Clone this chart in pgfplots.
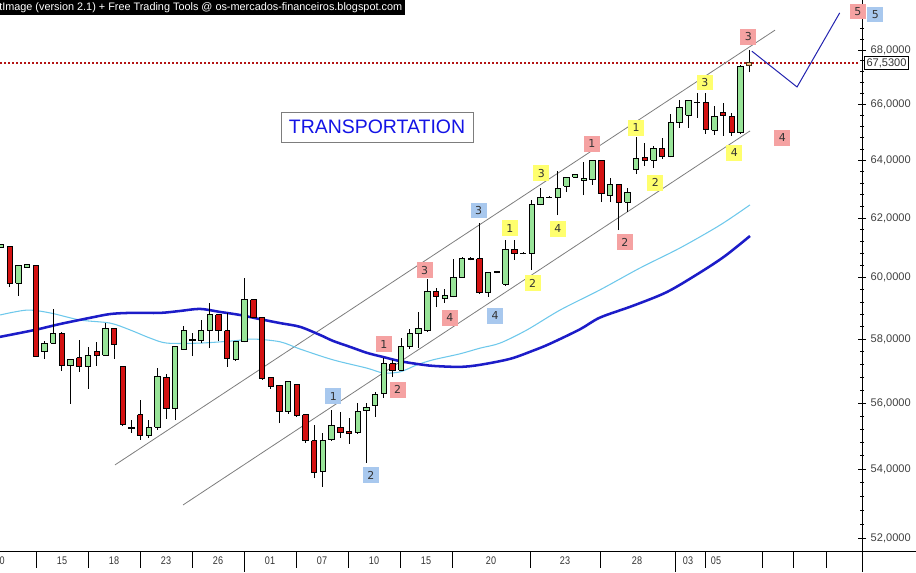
\documentclass[border=0pt]{standalone}
\usepackage{pgfplots}
\pgfplotsset{compat=1.18}
\usepackage{pgfplotstable}
\usepackage{fontspec}
\setmainfont{Liberation Sans}
\newfontfamily\narrowfont[FakeStretch=0.82]{Liberation Sans}
\newfontfamily\boxfont{DejaVu Sans}
\definecolor{cgreen}{RGB}{152,228,152}
\definecolor{cred}{RGB}{212,18,18}
\definecolor{mafast}{RGB}{110,200,235}
\definecolor{maslow}{RGB}{28,28,200}
\definecolor{lblpink}{RGB}{245,162,162}
\definecolor{lblblue}{RGB}{168,200,238}
\definecolor{lblyellow}{RGB}{255,255,110}
\definecolor{lastbox}{RGB}{240,190,130}
\definecolor{projline}{RGB}{35,35,175}
\definecolor{priceline}{RGB}{180,20,20}
\definecolor{chan}{RGB}{125,125,125}
\definecolor{ttlblue}{RGB}{20,20,230}

\pgfplotstableread{
i O H L C
0 61.02 61.12 61.00 61.09
1 61.05 61.06 59.69 59.82
2 59.82 60.39 59.40 60.39
3 60.35 60.44 60.33 60.42
4 60.39 60.40 57.44 57.47
5 57.60 57.95 57.38 57.88
6 57.88 58.98 57.86 58.20
7 58.20 58.22 57.00 57.16
8 57.16 57.35 55.98 57.35
9 57.41 57.98 56.97 57.13
10 57.13 57.76 56.44 57.50
11 57.60 57.92 57.16 57.50
12 57.50 58.52 57.48 58.36
13 58.33 58.36 57.38 57.85
14 57.13 57.14 55.30 55.36
15 55.27 55.48 55.09 55.21
16 55.64 56.10 54.88 55.00
17 55.00 55.48 54.94 55.27
18 55.27 57.09 55.18 56.84
19 56.81 56.91 55.52 55.82
20 55.82 57.77 55.48 57.76
21 57.69 58.43 57.68 58.27
22 58.01 58.20 57.47 57.95
23 57.95 58.62 57.88 58.27
24 58.27 59.17 57.72 58.81
25 58.78 58.80 57.95 58.27
26 58.27 58.85 57.13 57.38
27 57.35 57.93 57.31 57.92
28 57.92 59.99 57.90 59.27
29 59.27 59.30 58.67 58.69
30 58.69 58.69 56.72 56.75
31 56.78 56.79 56.44 56.53
32 56.56 56.57 55.39 55.73
33 55.73 56.66 55.67 56.66
34 56.59 56.60 55.58 55.61
35 55.64 55.64 54.79 54.85
36 54.85 55.33 53.74 53.89
37 53.92 55.09 53.48 54.85
38 54.88 55.79 54.86 55.33
39 55.27 55.73 54.94 55.09
40 55.12 55.55 54.76 55.06
41 55.09 56.00 55.07 55.73
42 55.76 56.00 54.19 55.88
43 55.94 56.35 55.58 56.28
44 56.31 57.41 56.16 57.22
45 57.22 57.35 56.81 57.03
46 57.03 58.04 57.02 57.76
47 57.76 58.33 57.69 58.17
48 58.17 58.88 57.72 58.36
49 58.27 59.96 58.25 59.56
50 59.56 59.66 59.04 59.37
51 59.33 59.63 59.17 59.40
52 59.37 60.62 59.35 60.02
53 60.02 60.69 59.99 60.62
54 60.59 60.67 60.57 60.65
55 60.62 61.83 59.48 59.50
56 59.50 60.17 59.37 60.16
57 60.16 60.20 60.14 60.19
58 59.79 61.26 59.73 60.92
59 60.95 61.26 60.59 60.82
60 60.79 60.84 60.77 60.82
61 60.82 62.62 60.25 62.48
62 62.45 63.03 62.43 62.69
63 62.69 62.74 62.67 62.72
64 62.72 63.62 62.10 63.03
65 63.10 63.43 62.89 63.41
66 63.41 63.50 63.40 63.49
67 63.28 63.94 62.79 63.35
68 63.31 64.02 63.14 64.01
69 64.01 64.02 62.55 62.83
70 62.79 63.38 62.55 63.17
71 63.17 63.18 61.59 62.52
72 62.55 63.03 62.21 62.89
73 63.69 64.82 63.52 64.05
74 64.08 64.61 63.80 64.01
75 64.01 64.50 63.73 64.43
76 64.43 64.79 64.05 64.12
77 64.12 65.65 64.10 65.33
78 65.33 66.16 65.15 65.90
79 65.61 66.13 65.15 66.12
80 66.05 66.41 65.51 66.08
81 66.08 66.41 64.93 65.11
82 65.07 65.94 64.90 65.54
83 65.72 66.05 64.86 65.61
84 65.54 65.69 64.86 64.97
85 64.97 67.44 64.95 67.37
}\candles

\tikzset{
  lbl/.style={font=\boxfont\fontsize{8.2}{9}\selectfont, text=black!80, minimum width=12pt, minimum height=11.5pt, inner sep=0pt},
  lp/.style={lbl, fill=lblpink},
  lb/.style={lbl, fill=lblblue},
  ly/.style={lbl, fill=lblyellow},
}

\begin{document}
\begin{tikzpicture}
\useasboundingbox (0,0) rectangle (687pt,429pt);
\begin{axis}[
  at={(0pt,15.75pt)}, anchor=south west,
  width=646.5pt, height=413.25pt, scale only axis,
  xmin=-0.115, xmax=98.966,
  ymode=log, ymin=51.629, ymax=69.895,
  hide x axis,
  axis y line*=right,
  y axis line style={line width=0.75pt},
  ytick={52,54,56,58,60,62,64,66,68},
  yticklabels={{52,0000},{54,0000},{56,0000},{58,0000},{60,0000},{62,0000},{64,0000},{66,0000},{68,0000}},
  minor ytick={52.4,52.8,...,69.6},
  tick align=center,
  major tick length=6pt, minor tick length=3pt,
  tick style={black, line width=0.6pt},
  yticklabel style={font=\fontsize{8.3}{10}\selectfont, text=black!75, xshift=0pt},
  clip=false,
]
% price line
\addplot[priceline, line width=1.5pt, dash pattern=on 1.5pt off 1.5pt] coordinates {(-0.115,67.53) (98.7,67.53)};
% channel lines
\addplot[chan, line width=0.6pt] coordinates {(13.10,54.13) (88.97,68.75)};
\addplot[chan, line width=0.6pt] coordinates {(20.92,52.95) (86.10,65.04)};
% moving averages
\addplot[mafast, line width=0.8pt, smooth, tension=0.5] coordinates {
(-0.11,58.78) (2.99,58.94) (5.63,58.85) (9.08,58.62) (12.53,58.52) (14.83,58.30) (17.13,58.04) (19.08,57.88) (22.87,57.88) (26.67,57.95) (28.97,58.01) (32.07,57.92) (34.37,57.69) (38.16,57.35) (42.07,57.09) (43.91,56.94) (45.86,56.97) (47.82,57.19) (49.66,57.35) (52.76,57.54) (55.06,57.72) (57.36,57.88) (60.46,58.30) (64.25,58.94) (68.85,59.60) (73.45,60.32) (78.05,60.99) (82.64,61.76) (86.09,62.45)};
\addplot[maslow, line width=1.9pt, smooth, tension=0.5] coordinates {
(-0.11,58.08) (3.91,58.30) (6.78,58.49) (10.23,58.69) (12.53,58.81) (14.83,58.85) (18.28,58.85) (20.57,58.91) (22.87,58.98) (25.17,58.88) (27.47,58.78) (29.77,58.65) (32.07,58.52) (34.37,58.40) (36.67,58.14) (38.16,57.95) (40.11,57.76) (42.07,57.57) (43.91,57.44) (45.86,57.31) (47.82,57.22) (49.66,57.16) (52.76,57.13) (55.06,57.19) (58.51,57.38) (61.15,57.64) (63.10,57.86) (66.55,58.32) (68.85,58.70) (72.64,59.08) (76.55,59.53) (80.34,60.17) (83.22,60.72) (86.09,61.39)};
% candles
\pgfplotstablegetrowsof{\candles}
\pgfmathtruncatemacro{\lastrow}{\pgfplotsretval-1}
\pgfplotsforeachungrouped \r in {0,...,\lastrow}{%
  \pgfplotstablegetelem{\r}{i}\of\candles \let\ci\pgfplotsretval
  \pgfplotstablegetelem{\r}{O}\of\candles \let\co\pgfplotsretval
  \pgfplotstablegetelem{\r}{H}\of\candles \let\ch\pgfplotsretval
  \pgfplotstablegetelem{\r}{L}\of\candles \let\cl\pgfplotsretval
  \pgfplotstablegetelem{\r}{C}\of\candles \let\cc\pgfplotsretval
  \pgfmathsetmacro\xl{\ci-0.31}%
  \pgfmathsetmacro\xr{\ci+0.31}%
  \pgfmathtruncatemacro\isred{\co>\cc}%
  \ifnum\isred=1 \def\cfill{cred}\else\def\cfill{cgreen}\fi
  \edef\temp{%
    \noexpand\addplot[black, line width=0.75pt] coordinates {(\ci,\cl) (\ci,\ch)};
    \noexpand\addplot[draw=black, line width=0.75pt, fill=\cfill] coordinates {(\xl,\co) (\xr,\co) (\xr,\cc) (\xl,\cc) (\xl,\co)};
  }%
  \temp
}
% last (current) candle
\addplot[black, line width=0.75pt] coordinates {(86,67.18) (86,68.00)};
\addplot[draw=black!60!brown, fill=lastbox, line width=0.75pt] coordinates {(85.69,67.41) (86.31,67.41) (86.31,67.53) (85.69,67.53) (85.69,67.41)};
% projection
\addplot[projline, line width=0.75pt] coordinates {(86.3,67.96) (91.5,66.63) (96.4,69.40)};
% title box
\node[draw=chan, fill=white, line width=0.6pt, minimum width=144pt, minimum height=22.5pt, inner sep=0pt, text=ttlblue, font=\fontsize{14.6}{16}\selectfont] at (axis cs:43.22,65.18) {TRANSPORTATION};
% wave labels
\node[lp] at (axis cs:44.0,57.85) {1};
\node[lp] at (axis cs:45.6,56.41) {2};
\node[lp] at (axis cs:48.7,60.25) {3};
\node[lp] at (axis cs:51.6,58.69) {4};
\node[lp] at (axis cs:67.9,64.58) {1};
\node[lp] at (axis cs:71.7,61.19) {2};
\node[lp] at (axis cs:85.9,68.49) {3};
\node[lp] at (axis cs:89.8,64.79) {4};
\node[lp] at (axis cs:98.5,69.46) {5};
\node[lb] at (axis cs:38.2,56.22) {1};
\node[lb] at (axis cs:42.5,53.83) {2};
\node[lb] at (axis cs:54.9,62.27) {3};
\node[lb] at (axis cs:56.8,58.75) {4};
\node[lb] at (axis cs:100.5,69.35) {5};
\node[ly] at (axis cs:58.5,61.66) {1};
\node[ly] at (axis cs:61.1,59.82) {2};
\node[ly] at (axis cs:62.1,63.55) {3};
\node[ly] at (axis cs:64.0,61.63) {4};
\node[ly] at (axis cs:73.0,65.15) {1};
\node[ly] at (axis cs:75.2,63.21) {2};
\node[ly] at (axis cs:80.9,66.81) {3};
\node[ly] at (axis cs:84.3,64.26) {4};
\end{axis}
% pixel-coordinate overlay: banner, date band, price box
\begin{scope}[x=0.75pt, y=-0.75pt, yshift=429pt]
  \fill[black] (0,0) rectangle (405,15);
  \node[anchor=west, text=white, inner sep=0pt, font=\fontsize{8.15}{9}\selectfont] at (-1,7.5) {tImage (version 2.1) + Free Trading Tools @ os-mercados-financeiros.blogspot.com};
  \draw[black, line width=0.75pt] (0,551) -- (916,551);
  \draw[black, line width=0.75pt] (862,551) -- (862,572);
  \foreach \sx in {36,88,140,192,244,296,348,400,452,530,600,675,705,762,793,826}
    \draw[black, line width=0.6pt] (\sx,551) -- (\sx,568);
  \draw[black, line width=0.6pt] (244,568) -- (244,572);
  \draw[black, line width=0.6pt] (675,568) -- (675,572);
  \foreach \lx/\lt in {62/15,114/18,166/23,218/26,270/01,322/07,374/10,426/15,491/20,565/23,637/28,688/03,716/05}
    \node[font=\narrowfont\fontsize{8.3}{9}\selectfont, text=black!80, inner sep=0pt] at (\lx,561) {\lt};
  \node[anchor=east, font=\narrowfont\fontsize{8.3}{9}\selectfont, text=black!80, inner sep=0pt] at (5,561) {10};
  \node[draw=black, fill=white, line width=0.75pt, anchor=west, inner sep=1.5pt, font=\fontsize{8.3}{9}\selectfont, text=black!80] at (864,63) {67,5300};
\end{scope}
\end{tikzpicture}
\end{document}
